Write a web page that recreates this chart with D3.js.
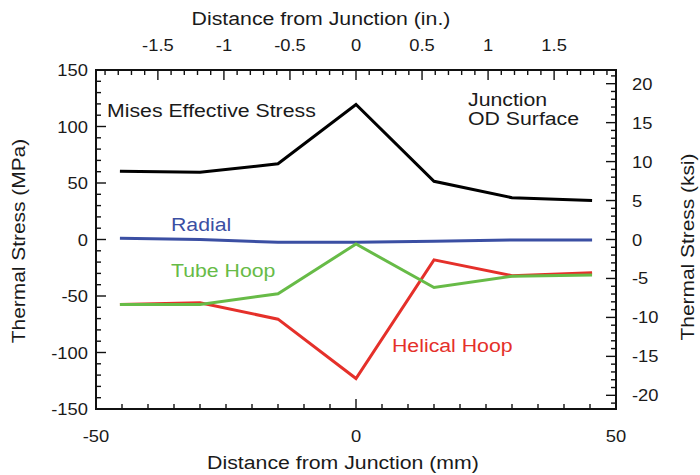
<!DOCTYPE html>
<html>
<head>
<meta charset="utf-8">
<script src="https://cdn.jsdelivr.net/npm/d3@7"></script>
<style>
  html, body { margin: 0; padding: 0; background: #fff; }
  svg { display: block; }
  text { font-family: "Liberation Sans", Arial, Helvetica, sans-serif; fill: #1a1a1a; }
</style>
</head>
<body>
<svg id="chart" width="700" height="475"></svg>
<script>
// Distance from the junction (mm) at each computed node
const distanceMm = [-45.4, -30, -15, 0, 15, 30, 45.4];

// Thermal stress components at the junction OD surface (MPa)
const misesStress = [60.5, 59.5, 67, 119.5, 51.5, 37, 34.5];
const radialStress = [1, 0, -2.5, -2.5, -1.5, -0.5, -0.5];
const tubeHoopStress = [-57.5, -57.5, -48, -4, -42.5, -32.5, -31.5];
const helicalHoopStress = [-57.5, -56, -70.5, -123, -18, -32, -29.5];

// Axis ticks
const mmTicks = [-50, 0, 50];
const inchTicks = [-1.5, -1, -0.5, 0, 0.5, 1, 1.5];
const mpaTicks = [-150, -100, -50, 0, 50, 100, 150];
const ksiTicks = [-20, -15, -10, -5, 0, 5, 10, 15, 20];

const MM_PER_IN = 25.4;
const MPA_PER_KSI = 6.894757;

const svg = d3.select("#chart");
const plot = { left: 96, right: 616, top: 70, bottom: 409 };

const x = d3.scaleLinear().domain([-50, 50]).range([plot.left, plot.right]);
const xIn = d3.scaleLinear().domain([-50 / MM_PER_IN, 50 / MM_PER_IN]).range([plot.left, plot.right]);
const y = d3.scaleLinear().domain([-150, 150]).range([plot.bottom, plot.top]);
const yKsi = d3.scaleLinear().domain([-150 / MPA_PER_KSI, 150 / MPA_PER_KSI]).range([plot.bottom, plot.top]);

const SX = 1.12; // horizontal stretch of lettering

function label(g, px, py, str, opts = {}) {
  const t = g.append("g").attr("transform", `translate(${px},${py}) scale(${opts.sx || SX},1)`)
    .append("text")
    .attr("text-anchor", opts.anchor || "start")
    .style("font-size", (opts.size || 19) + "px")
    .text(str);
  if (opts.color) t.style("fill", opts.color);
  return t;
}

// Minor/major tick generator along a scale
function ticksBetween(lo, hi, step) {
  const out = [];
  const n = Math.round((hi - lo) / step);
  for (let i = 0; i <= n; i++) out.push(+(lo + i * step).toFixed(6));
  return out;
}
const isMultiple = (v, m) => Math.abs(v / m - Math.round(v / m)) < 1e-6;

const MINOR = 5, MAJOR = 10;
const tickG = svg.append("g").attr("stroke", "#111").attr("stroke-width", 1.4);

// bottom: every 5 mm, major at multiples of 50
ticksBetween(-50, 50, 5).forEach(v => {
  const len = isMultiple(v, 50) ? MAJOR : MINOR;
  tickG.append("line").attr("x1", x(v)).attr("x2", x(v)).attr("y1", plot.bottom).attr("y2", plot.bottom - len);
});
// top: every 0.1 in, major at multiples of 0.5
ticksBetween(-1.9, 1.9, 0.1).forEach(v => {
  const len = isMultiple(v, 0.5) ? MAJOR : MINOR;
  tickG.append("line").attr("x1", xIn(v)).attr("x2", xIn(v)).attr("y1", plot.top).attr("y2", plot.top + len);
});
// left: every 10 MPa, major at multiples of 50
ticksBetween(-150, 150, 10).forEach(v => {
  const len = isMultiple(v, 50) ? MAJOR : MINOR;
  tickG.append("line").attr("x1", plot.left).attr("x2", plot.left + len).attr("y1", y(v)).attr("y2", y(v));
});
// right: every 1 ksi, major at multiples of 5
ticksBetween(-21, 21, 1).forEach(v => {
  const len = isMultiple(v, 5) ? MAJOR : MINOR;
  tickG.append("line").attr("x1", plot.right).attr("x2", plot.right - len).attr("y1", yKsi(v)).attr("y2", yKsi(v));
});

// frame
svg.append("rect")
  .attr("x", plot.left).attr("y", plot.top)
  .attr("width", plot.right - plot.left).attr("height", plot.bottom - plot.top)
  .attr("fill", "none").attr("stroke", "#111").attr("stroke-width", 2);

// tick labels
const labG = svg.append("g");
mmTicks.forEach(v => label(labG, x(v), 442, String(v), { anchor: "middle", size: 17, sx: 1.08 }));
inchTicks.forEach(v => label(labG, xIn(v), 51, String(v), { anchor: "middle", size: 17, sx: 1.08 }));
mpaTicks.forEach(v => label(labG, 88, y(v) + 6, String(v), { anchor: "end", size: 17, sx: 1.08 }));
ksiTicks.forEach(v => label(labG, 632, yKsi(v) + 6, String(v), { anchor: "start", size: 17, sx: 1.08 }));

// axis titles
label(svg, 321, 25, "Distance from Junction (in.)", { anchor: "middle" });
label(svg, 343, 469, "Distance from Junction (mm)", { anchor: "middle" });
svg.append("g").attr("transform", `translate(25,241) rotate(-90) scale(1.1,1)`)
  .append("text").attr("text-anchor", "middle").style("font-size", "19px").text("Thermal Stress (MPa)");
svg.append("g").attr("transform", `translate(694,247) rotate(-90) scale(1.1,1)`)
  .append("text").attr("text-anchor", "middle").style("font-size", "19px").text("Thermal Stress (ksi)");

// stress curves (tube hoop drawn last so it sits over helical hoop where they meet)
const series = [
  { values: misesStress, color: "#000000" },
  { values: radialStress, color: "#3b4fa3" },
  { values: helicalHoopStress, color: "#e5302a" },
  { values: tubeHoopStress, color: "#67bb47" }
];
const line = d3.line().x(d => x(d[0])).y(d => y(d[1]));
series.forEach(s => {
  svg.append("path")
    .datum(distanceMm.map((d, i) => [d, s.values[i]]))
    .attr("d", line)
    .attr("fill", "none")
    .attr("stroke", s.color)
    .attr("stroke-width", 3)
    .attr("stroke-linejoin", "miter");
});

// curve labels
label(svg, 107, 117, "Mises Effective Stress");
label(svg, 468, 106, "Junction");
label(svg, 468, 125, "OD Surface");
label(svg, 171, 231, "Radial", { color: "#3b4fa3" });
label(svg, 171, 277, "Tube Hoop", { color: "#67bb47" });
label(svg, 392, 352, "Helical Hoop", { color: "#e5302a" });
</script>
</body>
</html>
